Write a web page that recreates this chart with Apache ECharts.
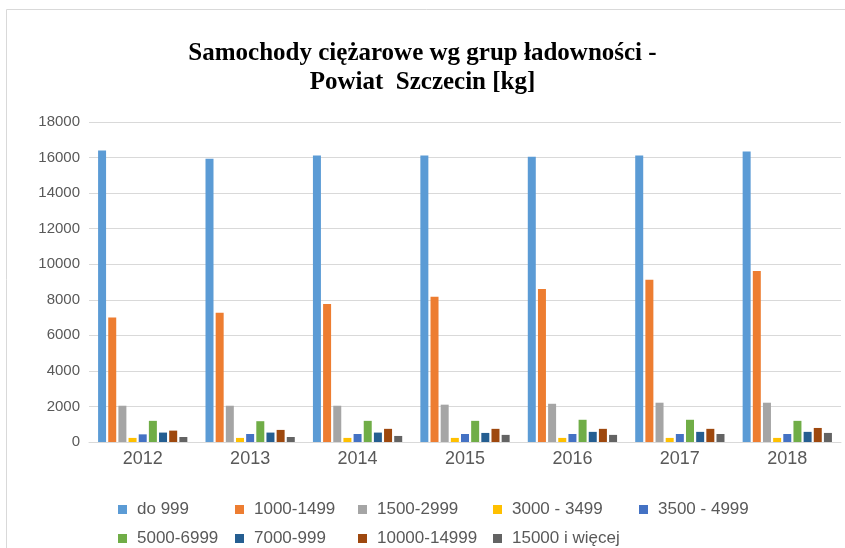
<!DOCTYPE html>
<html>
<head>
<meta charset="utf-8">
<script src="https://cdn.jsdelivr.net/npm/echarts@6/dist/echarts.min.js"></script>
<style>html,body{margin:0;padding:0;background:#fff}#c{width:845px;height:548px}</style>
</head>
<body>
<div id="c"></div>
<script>
const categories = ['2012','2013','2014','2015','2016','2017','2018'];
const seriesNames = ['do 999','1000-1499','1500-2999','3000 - 3499','3500 - 4999','5000-6999','7000-999','10000-14999','15000 i więcej'];
const s_do999 = [16400, 15930, 16110, 16110, 16050, 16110, 16340];
const s_1000_1499 = [7010, 7270, 7760, 8170, 8600, 9120, 9620];
const s_1500_2999 = [2040, 2040, 2040, 2100, 2150, 2210, 2210];
const s_3000_3499 = [230, 230, 230, 230, 230, 230, 230];
const s_3500_4999 = [430, 450, 450, 450, 450, 450, 450];
const s_5000_6999 = [1190, 1170, 1190, 1190, 1250, 1250, 1190];
const s_7000_999 = [530, 530, 530, 510, 570, 570, 570];
const s_10000_14999 = [640, 680, 740, 740, 740, 740, 790];
const s_15000_plus = [280, 280, 340, 400, 400, 450, 510];
const yTicks = [0, 2000, 4000, 6000, 8000, 10000, 12000, 14000, 16000, 18000];

const allData = [s_do999, s_1000_1499, s_1500_2999, s_3000_3499, s_3500_4999, s_5000_6999, s_7000_999, s_10000_14999, s_15000_plus];
const colors = ['#5B9BD5','#ED7D31','#A5A5A5','#FFC000','#4472C4','#70AD47','#255E91','#9E480E','#636363'];

const legendCols = [[0,5],[1,6],[2,7],[3,8],[4]];
const legendX = [118, 235, 358, 493, 639];

const chart = echarts.init(document.getElementById('c'), null, {renderer:'canvas'});
chart.setOption({
  animation: false,
  color: colors,
  graphic: [{
    type: 'rect', shape: {x: 6.5, y: 9.5, width: 845, height: 548},
    style: {fill: 'none', stroke: '#d9d9d9', lineWidth: 1}, silent: true
  }],
  title: {
    text: 'Samochody ciężarowe wg grup ładowności -\nPowiat  Szczecin [kg]',
    left: 'center', top: 34,
    textStyle: {fontFamily: 'Liberation Serif', fontWeight: 'bold', fontSize: 25, lineHeight: 29, color: '#000'}
  },
  legend: legendCols.map((col, i) => ({
    orient: 'vertical', left: legendX[i], top: 501, padding: 0,
    itemWidth: 9, itemHeight: 9, itemGap: 12, icon: 'rect',
    data: col.map(k => seriesNames[k]),
    textStyle: {fontFamily: 'Liberation Sans', fontSize: 17, lineHeight: 17, color: '#595959', padding: [0,0,0,5]}
  })),
  grid: {left: 89, right: 4, top: 122, bottom: 106, containLabel: false},
  xAxis: {
    type: 'category', data: categories,
    axisLine: {lineStyle: {color: '#d9d9d9', width: 1}},
    axisTick: {show: false},
    axisLabel: {fontFamily: 'Liberation Sans', fontSize: 18, color: '#595959', margin: 8}
  },
  yAxis: {
    type: 'value', min: 0, max: 18000, interval: 2000,
    axisLine: {show: false}, axisTick: {show: false},
    splitLine: {lineStyle: {color: '#d9d9d9', width: 1}},
    axisLabel: {fontFamily: 'Liberation Sans', fontSize: 15, color: '#595959', margin: 9,
      formatter: v => yTicks.includes(v) ? String(v) : ''}
  },
  series: seriesNames.map((n, i) => ({
    name: n, type: 'bar', data: allData[i], barWidth: 8, barGap: '27%',
    itemStyle: {color: colors[i]}
  }))
});
</script>
</body>
</html>
